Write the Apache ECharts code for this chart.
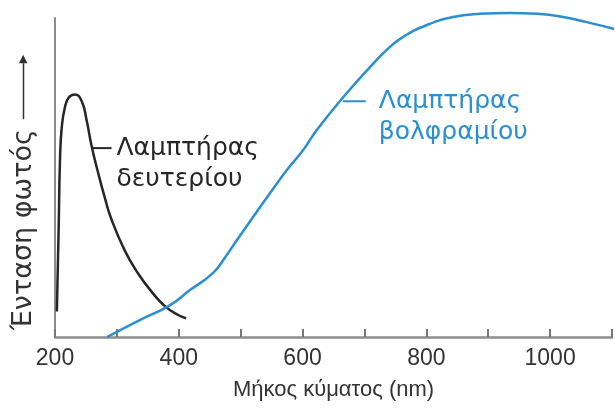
<!DOCTYPE html>
<html>
<head>
<meta charset="utf-8">
<script src="https://cdn.jsdelivr.net/npm/echarts@6/dist/echarts.min.js"></script>
<style>html,body{margin:0;padding:0;background:#fff}#c{width:615px;height:411px}</style>
</head>
<body>
<div id="c"></div>
<script>
// Deuterium lamp (black) — wavelength nm, relative intensity
const deutX = [203, 206, 208, 211, 216, 222, 232, 243, 251, 259, 269, 280, 291, 313, 334, 357, 378, 399, 412];
const deutY = [8, 35, 55, 66, 72, 75, 76, 74, 68, 60, 52, 44, 37, 27, 20, 14, 9.6, 6.9, 5.9];
// Tungsten lamp (blue)
const tungX = [284, 337, 386, 418, 455, 475, 494, 520, 547, 575, 601, 623, 665, 709, 736, 762, 801, 843, 887, 935, 979, 1021, 1059, 1105];
const tungY = [0, 5.3, 10, 14.7, 20, 25, 30.4, 37.6, 45, 52.4, 58.6, 64.9, 75, 84.6, 90, 94, 97.8, 100.3, 101.3, 101.6, 101.3, 100.3, 98.7, 96.5];
const xTickLabels = [200, 400, 600, 800, 1000];
const deutName = 'Λαμπτήρας\nδευτερίου';
const tungName = 'Λαμπτήρας\nβολφραμίου';
const deutLabelAt = 259;
const tungLabelAt = 665;
const xName = 'Μήκος κύματος (nm)';
const yName = 'Ένταση φωτός';

const FONT = 'Liberation Sans';
const GFONT = 'DejaVu Sans';
const BLUE = '#2a8fd2';
const BLACK = '#262626';

function build(xs, ys, labelAt, text, color, dashW, gapW, dy) {
  return xs.map((x, i) => {
    const item = { value: [x, ys[i]] };
    if (x === labelAt) {
      const lines = text.split('\n');
      item.label = {
        show: true,
        position: 'right',
        distance: 0,
        offset: [0, dy],
        formatter: '{d|}{g|}{t|' + lines[0] + '}\n{s|}{t|' + lines[1] + '}',
        rich: {
          d: { width: dashW, height: 2, backgroundColor: color },
          g: { width: gapW },
          s: { width: dashW + gapW },
          t: { fontFamily: GFONT, fontSize: 25, color: color, lineHeight: 31 }
        }
      };
    }
    return item;
  });
}

const chart = echarts.init(document.getElementById('c'), null, { renderer: 'canvas' });
chart.setOption({
  animation: false,
  backgroundColor: '#ffffff',
  grid: { left: 55, right: 3, top: 18, bottom: 74 },
  xAxis: {
    type: 'value', min: 200, max: 1100, interval: 100,
    name: xName, nameLocation: 'middle', nameGap: 42,
    nameTextStyle: { fontFamily: FONT, fontSize: 22, color: '#333' },
    axisLine: { lineStyle: { color: '#8c8c8c', width: 2.5 } },
    axisTick: { inside: true, length: 8, lineStyle: { color: '#777', width: 2 } },
    axisLabel: {
      margin: 10, fontFamily: FONT, fontSize: 23, color: '#333',
      formatter: v => xTickLabels.includes(v) ? String(v) : ''
    },
    splitLine: { show: false }
  },
  yAxis: {
    type: 'value', min: 0, max: 100,
    name: '{t|' + yName + '}{g|}{b|}{h|▶}',
    nameLocation: 'middle', nameRotate: 90, nameGap: 18,
    nameTextStyle: {
      padding: [0, 30, 0, 0],
      rich: {
        t: { fontFamily: GFONT, fontSize: 27, color: '#333' },
        g: { width: 10 },
        b: { width: 56, height: 1.5, backgroundColor: '#333' },
        h: { fontSize: 11, color: '#333', fontFamily: 'DejaVu Sans' }
      }
    },
    axisLine: { show: true, lineStyle: { color: '#8c8c8c', width: 2 } },
    axisTick: { show: false },
    axisLabel: { show: false },
    splitLine: { show: false }
  },
  series: [
    {
      type: 'line', name: 'deut', data: build(deutX, deutY, deutLabelAt, deutName, BLACK, 20, 5, 18),
      smooth: 0.5, showSymbol: true, symbolSize: 0, clip: false,
      lineStyle: { color: BLACK, width: 2.5 }, itemStyle: { color: BLACK }
    },
    {
      type: 'line', name: 'tung', data: build(tungX, tungY, tungLabelAt, tungName, BLUE, 23, 13, 19),
      smooth: 0.5, showSymbol: true, symbolSize: 0, clip: false,
      lineStyle: { color: BLUE, width: 2.5 }, itemStyle: { color: BLUE }
    }
  ]
});
</script>
</body>
</html>
